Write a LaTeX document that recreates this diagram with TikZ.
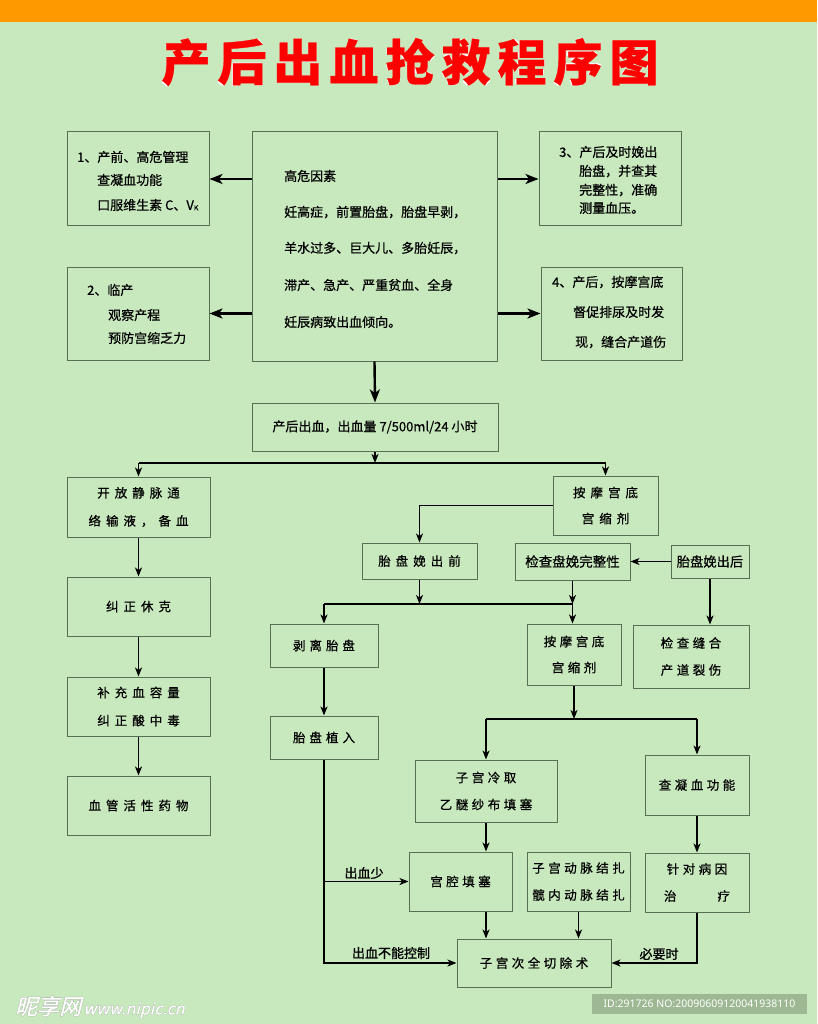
\documentclass[tikz,border=0pt]{standalone}
\usepackage{fontspec}
\setmainfont[FakeBold=0.6]{Noto Sans CJK SC}
\newfontfamily\titleback[FakeBold=4]{Noto Sans CJK SC}
\newfontfamily\lblfont[FakeBold=1.2]{Noto Sans CJK SC}
\newfontfamily\wmfont[FakeSlant=0.25,FakeBold=1.5]{Noto Sans CJK SC}
\newfontfamily\wmback[FakeSlant=0.25,FakeBold=4]{Noto Sans CJK SC}
\newfontfamily\idfont{Noto Sans}
\usetikzlibrary{arrows.meta,calc}
\definecolor{bg}{RGB}{200,233,189}
\definecolor{band}{RGB}{255,153,0}
\definecolor{boxc}{RGB}{88,110,85}
\definecolor{idbg}{RGB}{157,184,146}
\definecolor{wmgray}{RGB}{150,160,150}
\makeatletter
\def\lsp#1#2{\def\lsp@gap{#1}\lsp@i#2\relax\unskip}
\def\lsp@i#1{\ifx#1\relax\else#1\hspace{\lsp@gap}\expandafter\lsp@i\fi}
\makeatother
\newcommand\bx[7][]{\node[box,#1,minimum width={(#4)-(#2)},minimum height={(#5)-(#3)}] (#7) at ({((#2)+(#4))/2},{((#3)+(#5))/2}) {#6};}
\tikzset{
  box/.style={draw=boxc,line width=1pt,inner sep=0pt,align=center,font=\fontsize{12.5}{28}\selectfont},
  txt/.style={anchor=west,inner sep=0pt,font=\fontsize{13}{13}\selectfont},
  lbl/.style={inner sep=0pt,font=\lblfont\fontsize{13}{13}\selectfont},
  arr/.style={line width=1.4pt,-{Stealth[length=9pt,width=7pt,inset=2.5pt]}},
  bigarr/.style={line width=2.4pt,-{Stealth[length=13pt,width=10pt,inset=3.5pt]}},
  ln/.style={line width=1.4pt}
}
\begin{document}
\begin{tikzpicture}[x=1pt,y=-1pt]
\useasboundingbox (0,0) rectangle (817,1024);
\fill[bg] (0,0) rectangle (817,1024);
\fill[band] (0,0) rectangle (817,22);
% title
\node[inner sep=0pt,text=white,font=\titleback\fontsize{49}{49}\selectfont] (titlebg) at (410,62) {\lsp{7pt}{产后出血抢救程序图}};
\node[inner sep=0pt,text=red,font=\fontsize{49}{49}\selectfont\bfseries] (title) at (410,62) {\lsp{7pt}{产后出血抢救程序图}};
% top boxes
\bx{67}{132}{209}{226}{}{b1}
\bx{252}{132}{497}{361}{}{bc}
\bx{67}{267}{209}{360}{}{b2}
\bx{539}{132}{681}{226}{}{b3}
\bx{541}{267}{682}{360}{}{b4}
\node[txt] (t1a) at (77,157) {1、产前、高危管理};
\node[txt] (t1b) at (97,180) {查凝血功能};
\node[txt] (t1c) at (97,205) {口服维生素 C、V\raisebox{-0.5pt}{\fontsize{7}{7}\selectfont K}};
\node[txt] (tca) at (284,176) {高危因素};
\node[txt] (tcb) at (284,212) {妊高症，前置胎盘，胎盘早剥，};
\node[txt] (tcc) at (284,248) {羊水过多、巨大儿、多胎妊辰，};
\node[txt] (tcd) at (284,285) {滞产、急产、严重贫血、全身};
\node[txt] (tce) at (284,322) {妊辰病致出血倾向。};
\node[txt] (t2a) at (87,290) {2、临产};
\node[txt] (t2b) at (108,315) {观察产程};
\node[txt] (t2c) at (108,338) {预防宫缩乏力};
\node[txt] (t3a) at (559,152) {3、产后及时娩出};
\node[txt] (t3b) at (579,171) {胎盘，并查其};
\node[txt] (t3c) at (579,190) {完整性，准确};
\node[txt] (t3d) at (579,208) {测量血压。};
\node[txt] (t4a) at (552,282) {4、产后，按摩宫底};
\node[txt] (t4b) at (573,312) {督促排尿及时发};
\node[txt] (t4c) at (575,342) {现，缝合产道伤};
\draw[bigarr] (bc.west |- b1.east) -- (b1.east);
\draw[bigarr] (bc.west |- b2.east) -- (b2.east);
\draw[bigarr] (bc.east |- b3.west) -- (b3.west);
\draw[bigarr] (bc.east |- b4.west) -- (b4.west);
% main flow
\bx[font=\fontsize{13}{14}\selectfont]{252}{403}{498}{451}{产后出血，出血量 7/500ml/24 小时}{b5}
\draw[bigarr] (bc.south) -- (b5.north);
\bx{67}{477}{210}{537}{\lsp{5pt}{开放静脉通}\\\lsp{5pt}{络输液，备血}}{b6}
\bx{67}{577}{210}{636}{\lsp{5pt}{纠正休克}}{b7}
\bx{67}{677}{210}{736}{\lsp{5pt}{补充血容量}\\\lsp{5pt}{纠正酸中毒}}{b8}
\bx{67}{776}{210}{835}{\lsp{5pt}{血管活性药物}}{b9}
\bx[font=\fontsize{12.5}{26}\selectfont]{553}{476}{658}{535}{\lsp{5pt}{按摩宫底}\\\lsp{5pt}{宫缩剂}}{b10}
\bx{362}{543}{477}{579}{\lsp{5pt}{胎盘娩出前}}{b11}
\bx[font=\fontsize{13.5}{14}\selectfont]{515}{543}{630}{580}{检查盘娩完整性}{b12}
\bx[font=\fontsize{13.3}{14}\selectfont]{671}{545}{749}{578}{胎盘娩出后}{b13}
\bx[font=\fontsize{12.5}{27}\selectfont]{633}{625}{749}{688}{\lsp{3.5pt}{检查缝合}\\\lsp{3.5pt}{产道裂伤}}{b14}
\bx{270}{624}{378}{667}{\lsp{4pt}{剥离胎盘}}{b15}
\bx[font=\fontsize{12.5}{26}\selectfont]{527}{624}{621}{685}{\lsp{3.5pt}{按摩宫底}\\\lsp{3.5pt}{宫缩剂}}{b16}
\bx{270}{716}{378}{759}{\lsp{4pt}{胎盘植入}}{b17}
\bx[font=\fontsize{12.5}{27}\selectfont]{415}{760}{557}{822}{\lsp{3.5pt}{子宫冷取}\\\lsp{3.5pt}{乙醚纱布填塞}}{b18}
\bx{645}{755}{749}{815}{\lsp{3.5pt}{查凝血功能}}{b19}
\bx{409}{852}{512}{911}{\lsp{3.5pt}{宫腔填塞}}{b20}
\bx[font=\fontsize{12.5}{27}\selectfont]{527}{852}{630}{911}{\lsp{3.5pt}{子宫动脉结扎}\\\lsp{3.5pt}{髋内动脉结扎}}{b21}
\bx[font=\fontsize{12.5}{27}\selectfont]{645}{853}{749}{912}{\lsp{3.5pt}{针对病因}\\治\hspace{41pt}疗}{b22}
\bx{457}{939}{611}{987}{\lsp{3.5pt}{子宫次全切除术}}{b23}
% junctions
\coordinate (j1) at (375,463);
\coordinate (h2) at (0,604);
\coordinate (h3) at (0,719);
\draw[arr] (b5.south) -- (j1);
\draw[ln] (j1) -- (j1 -| b6.north);
\draw[ln] (j1) -- (j1 -| b10.north);
\draw[arr] (j1 -| b6.north) -- (b6.north);
\draw[arr] (j1 -| b10.north) -- (b10.north);
\draw[arr] (b6.south) -- (b7.north);
\draw[arr] (b7.south) -- (b8.north);
\draw[arr] (b8.south) -- (b9.north);
\draw[arr] (b10.west) -| (b11.north);
\draw[arr] (b13.west) -- (b12.east);
\draw[arr] (b13.south) -- (b13.south |- b14.north);
\draw[arr] (b11.south) -- (b11.south |- h2);
\draw[arr] (b12.south) -- (b12.south |- h2);
\draw[ln] (b15.north |- h2) -- (b12.south |- h2);
\draw[arr] (b15.north |- h2) -- (b15.north);
\draw[arr] (b12.south |- h2) -- (b12.south |- b16.north);
\draw[arr] (b15.south) -- (b17.north);
\draw[arr] (b16.south) -- (b16.south |- h3);
\draw[ln] (b18.north |- h3) -- (b19.north |- h3);
\draw[arr] (b18.north |- h3) -- (b18.north);
\draw[arr] (b19.north |- h3) -- (b19.north);
\draw[arr] (b18.south) -- (b18.south |- b20.north);
\draw[arr] (b19.south) -- (b22.north);
\draw[arr] (b17.south) |- (b23.west);
\draw[arr] (b17.south |- b20.west) -- (b20.west);
\draw[arr] (b18.south |- b20.south) -- (b18.south |- b23.north);
\draw[arr] (b21.south) -- (b21.south |- b23.north);
\draw[arr] (b22.south) |- (b23.east);
\node[lbl] (l1) at (364,873) {出血少};
\node[lbl] (l2) at (391,953) {出血不能控制};
\node[lbl] (l3) at (659,954) {必要时};
% watermark and id
\node[anchor=west,inner sep=0pt,text=wmgray,font=\wmback] (wmb) at (15,1007) {{\fontsize{22}{22}\selectfont 昵享网} {\fontsize{16}{16}\selectfont www.nipic.cn}};
\node[anchor=west,inner sep=0pt,text=white,font=\wmfont] (wm) at (15,1007) {{\fontsize{22}{22}\selectfont 昵享网} {\fontsize{16}{16}\selectfont www.nipic.cn}};
\node[fill=idbg,minimum width=215pt,minimum height=20pt,inner sep=0pt,text=white,font=\idfont\fontsize{10.5}{10.5}\selectfont] (idbox) at (699.5,1004) {ID:291726 NO:20090609120041938110};
\end{tikzpicture}
\end{document}
